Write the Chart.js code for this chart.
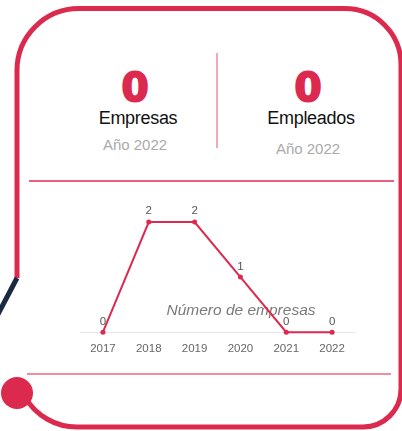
<!DOCTYPE html>
<html>
<head>
<meta charset="utf-8">
<script src="https://cdn.jsdelivr.net/npm/chart.js@4"></script>
<style>
  html, body { margin: 0; padding: 0; background: #fff; }
  body { width: 402px; height: 431px; position: relative; overflow: hidden; font-family: "Liberation Sans", Arial, sans-serif; }
  .deco { position: absolute; left: 0; top: 0; }
  .rule { position: absolute; height: 1.5px; }
  .stat { position: absolute; text-align: center; width: 140px; }
  .stat .num { color: #dc2a4f; font-family: "DejaVu Sans", sans-serif; font-weight: bold; font-size: 39px; line-height: 40px; -webkit-text-stroke: 2px #dc2a4f; }
  .stat .lbl { color: #111; font-size: 18px; line-height: 20px; letter-spacing: -0.3px; }
  .stat .yr { color: #aaa; font-size: 15px; line-height: 18px; }
  #chart-box { position: absolute; left: 60px; top: 195px; width: 310px; height: 171px; }
</style>
</head>
<body>
<svg class="deco" width="402" height="431">
  <path d="M 17 278 L 17 70.5 A 62 62 0 0 1 79 8.5 L 345 8.5 A 56 56 0 0 1 401 64.5 L 401 389 A 38 38 0 0 1 363 427 L 77 427 A 60 60 0 0 1 25 397"
        fill="none" stroke="#dc2a4f" stroke-width="5"/>
  <line x1="17" y1="278" x2="-3" y2="316" stroke="#1b2a40" stroke-width="5"/>
  <circle cx="17" cy="393" r="16" fill="#dc2a4f"/>
  <line x1="217" y1="53" x2="217" y2="148" stroke="#ec8c9c" stroke-width="1.5"/>
</svg>
<div class="rule" style="left:29px; top:180px; width:365px; background:#e9607f;"></div>
<div class="rule" style="left:27px; top:373px; width:364px; background:#f08da3;"></div>

<div class="stat" style="left:65px; top:68px;">
  <div class="num" id="num-empresas"></div>
  <div class="lbl" style="padding-left:6px;">Empresas</div>
  <div class="yr" style="margin-top:8px;">Año 2022</div>
</div>
<div class="stat" style="left:238px; top:68px;">
  <div class="num" id="num-empleados"></div>
  <div class="lbl" style="padding-left:6px;">Empleados</div>
  <div class="yr" style="margin-top:12px;">Año 2022</div>
</div>

<div id="chart-box"><canvas id="chart"></canvas></div>

<script>
const totalEmpresas = 0;
const totalEmpleados = 0;
const years = ["2017", "2018", "2019", "2020", "2021", "2022"];
const empresas = [0, 2, 2, 1, 0, 0];

document.getElementById("num-empresas").textContent = totalEmpresas;
document.getElementById("num-empleados").textContent = totalEmpleados;

// labels above each point
const pointLabels = {
  id: "pointLabels",
  afterDatasetsDraw(chart) {
    const ctx = chart.ctx;
    const meta = chart.getDatasetMeta(0);
    ctx.save();
    ctx.fillStyle = "#555";
    ctx.font = "11.5px 'Liberation Sans', Arial, sans-serif";
    ctx.textAlign = "center";
    ctx.textBaseline = "bottom";
    meta.data.forEach((pt, i) => {
      ctx.fillText(String(empresas[i]), pt.x, pt.y - 5);
    });
    ctx.restore();
  },
};

// caption drawn inside the plot
const innerTitle = {
  id: "innerTitle",
  beforeDatasetsDraw(chart) {
    const ctx = chart.ctx;
    const area = chart.chartArea;
    ctx.save();
    ctx.fillStyle = "#7a7a7a";
    ctx.font = "italic 15.5px 'Liberation Sans', Arial, sans-serif";
    ctx.textAlign = "center";
    ctx.textBaseline = "middle";
    ctx.fillText("Número de empresas", area.left + 161, area.bottom - 22);
    ctx.restore();
  },
};

new Chart(document.getElementById("chart").getContext("2d"), {
  type: "line",
  data: {
    labels: years,
    datasets: [
      {
        label: "Número de empresas",
        data: empresas,
        borderColor: "#dc2a4f",
        backgroundColor: "#dc2a4f",
        borderWidth: 2,
        pointRadius: 2.5,
        pointBackgroundColor: "#dc2a4f",
        pointBorderWidth: 0,
        tension: 0,
        fill: false,
        clip: false,
      },
    ],
  },
  options: {
    animation: false,
    responsive: true,
    maintainAspectRatio: false,
    layout: { padding: { left: 20, right: 15, top: 27, bottom: 0 } },
    scales: {
      x: {
        offset: true,
        grid: { display: false, drawTicks: false },
        border: { display: true, color: "#e8e8e8", width: 1 },
        ticks: {
          color: "#666",
          padding: 10,
          font: { size: 11.5, family: "'Liberation Sans', Arial, sans-serif" },
        },
      },
      y: { display: false, min: 0, max: 2 },
    },
    plugins: {
      legend: { display: false },
      tooltip: { enabled: false },
    },
  },
  plugins: [pointLabels, innerTitle],
});
</script>
</body>
</html>
